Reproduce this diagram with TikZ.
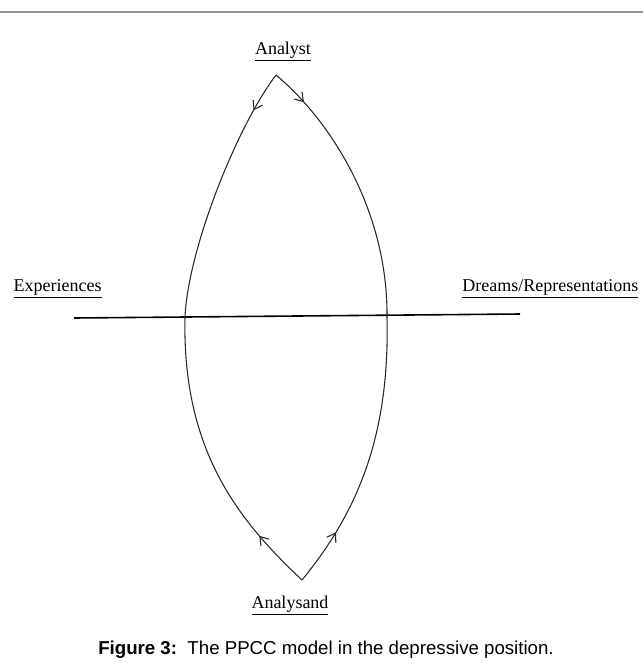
\documentclass[tikz,border=0pt]{standalone}
\usepackage{fontspec}
\setmainfont{Liberation Serif}
\newfontfamily\capfont{Liberation Sans}
\usetikzlibrary{arrows.meta,decorations.markings}

\begin{document}
\begin{tikzpicture}[x=0.75pt,y=0.75pt,yscale=-1,xscale=1,
  lbl/.style={font=\fontsize{13.5}{16}\selectfont,inner sep=1pt},
  loopline/.style={line width=0.8pt,draw={rgb,255:red,40;green,40;blue,40}},
  flowmarks/.style 2 args={postaction={decorate},decoration={markings,
    mark=at position #1 with {\arrow{Straight Barb[length=6pt,width=8pt,line width=0.8pt]}},
    mark=at position #2 with {\arrowreversed{Straight Barb[length=6pt,width=8pt,line width=0.8pt]}}}}]
\useasboundingbox (0,0) rectangle (643,668);
% top rule
\draw[line width=1pt,draw={rgb,255:red,150;green,150;blue,150}] (0,12) -- (643,12);
% labels
\node[lbl] (analyst) at (283,52) {\underline{Analyst}};
\node[lbl] (analysand) at (290,606) {\underline{Analysand}};
\node[lbl,anchor=west] (exp) at (12,289) {\underline{Experiences}};
\node[lbl,anchor=east] (dreams) at (640,289) {\underline{Dreams/Representations}};
% vertices
\coordinate (apex) at (276,75);
\coordinate (base) at (302,580);
\coordinate (lineL) at (74,318);
\coordinate (lineR) at (520,314);
% horizontal line
\draw[line width=1.2pt] (lineL) -- (lineR);
% left and right arcs
\draw[loopline,flowmarks={0.075}{0.89}] (apex) .. controls (236,128) and (188,250) .. (185,317) .. controls (182,450) and (238,520) .. (base);
\draw[loopline,flowmarks={0.07}{0.895}] (apex) .. controls (330,120) and (388,210) .. (387,317) .. controls (390,440) and (355,515) .. (base);
% caption
\node[font=\capfont\fontsize{14}{16}\selectfont] (caption) at (326,650) {\textbf{Figure 3:}\ \ The PPCC model in the depressive position.};
\end{tikzpicture}
\end{document}
